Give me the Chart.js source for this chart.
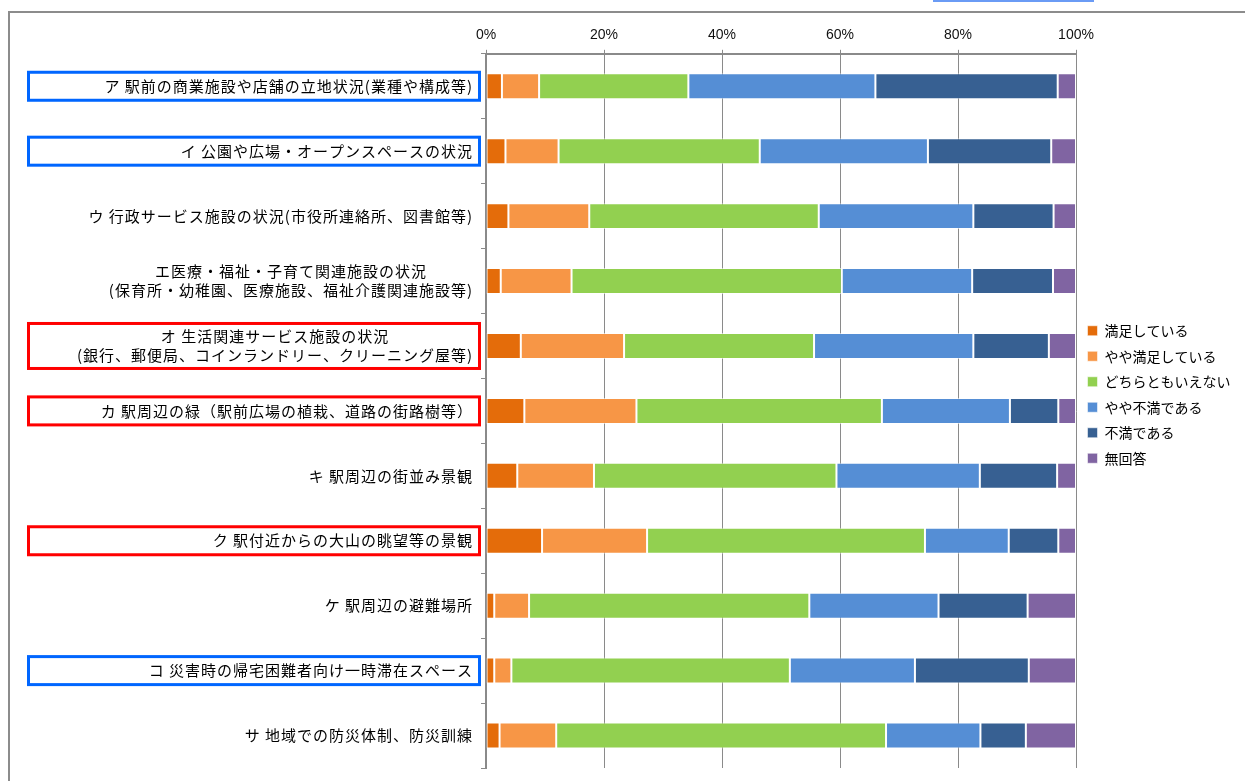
<!DOCTYPE html>
<html lang="ja">
<head>
<meta charset="utf-8">
<title>駅周辺の満足度</title>
<script src="https://cdn.jsdelivr.net/npm/chart.js@4.4.1/dist/chart.umd.min.js"></script>
<style>
  html, body { margin: 0; padding: 0; background: #fff; }
  body { width: 1245px; height: 781px; position: relative; overflow: hidden; }
  #frame { position: absolute; left: 8px; top: 11px; width: 1300px; height: 900px; border: 2px solid #8c8c8c; box-sizing: border-box; }
  #topEdge { position: absolute; left: 933px; top: 0; width: 161px; height: 2px; background: #6a9bf5; }
  #wrap { position: absolute; left: 0; top: 0; width: 1245px; height: 781px; }
</style>
</head>
<body>
<div id="topEdge"></div>
<div id="frame"></div>
<div id="wrap"><canvas id="chart"></canvas></div>
<script>
// Categories (multi-line labels as arrays)
const categories = [
  ['ア 駅前の商業施設や店舗の立地状況(業種や構成等)'],
  ['イ 公園や広場・オープンスペースの状況'],
  ['ウ 行政サービス施設の状況(市役所連絡所、図書館等)'],
  ['エ医療・福祉・子育て関連施設の状況', '(保育所・幼稚園、医療施設、福祉介護関連施設等)'],
  ['オ 生活関連サービス施設の状況', '(銀行、郵便局、コインランドリー、クリーニング屋等)'],
  ['カ 駅周辺の緑（駅前広場の植栽、道路の街路樹等）'],
  ['キ 駅周辺の街並み景観'],
  ['ク 駅付近からの大山の眺望等の景観'],
  ['ケ 駅周辺の避難場所'],
  ['コ 災害時の帰宅困難者向け一時滞在スペース'],
  ['サ 地域での防災体制、防災訓練']
];

// Highlight frames around some labels
const boxColors = ['#0066FF', '#0066FF', null, null, '#FF0000', '#FF0000', null, '#FF0000', null, '#0066FF', null];

// Series values (%)
const manzoku     = [2.7, 3.3, 3.8, 2.5, 5.9, 6.5, 5.3, 9.5, 1.4, 1.4, 2.3];
const yayaManzoku = [6.3, 9.0, 13.7, 12.0, 17.5, 19.0, 13.0, 17.8, 5.9, 2.9, 9.6];
const dochiramo   = [25.3, 34.1, 38.9, 45.8, 32.2, 41.6, 41.1, 47.1, 47.5, 47.2, 55.9];
const yayaFuman   = [31.7, 28.5, 26.2, 22.1, 27.0, 21.7, 24.3, 14.2, 21.9, 21.2, 16.0];
const fuman       = [30.9, 20.9, 13.6, 13.7, 12.8, 8.2, 13.1, 8.4, 15.1, 19.3, 7.7];
const mukaitou    = [3.1, 4.2, 3.8, 3.9, 4.6, 3.0, 3.2, 3.0, 8.2, 8.0, 8.5];

const seriesNames = ['満足している', 'やや満足している', 'どちらともいえない', 'やや不満である', '不満である', '無回答'];
const seriesData = [manzoku, yayaManzoku, dochiramo, yayaFuman, fuman, mukaitou];
const seriesColors = ['#E46C0A', '#F79646', '#92D050', '#558ED5', '#376092', '#8064A2'];

// Tick values for the top axis
const xTicks = [0, 20, 40, 60, 80, 100];

const LABEL_RIGHT = 473;
const LINE_H = 19;

// Draw the category labels and the coloured frames
const labelPlugin = {
  id: 'itemLabels',
  afterDraw(chart) {
    const ctx = chart.ctx;
    const y = chart.scales.y;
    ctx.save();
    ctx.font = '15px "Noto Sans CJK JP"';
    ctx.letterSpacing = '1px';
    ctx.fillStyle = '#000';
    ctx.textBaseline = 'middle';
    ctx.textAlign = 'center';
    categories.forEach((lines, i) => {
      const cy = y.getPixelForValue(i);
      const blockW = Math.max(...lines.map(t => ctx.measureText(t).width));
      lines.forEach((t, j) => {
        const ty = cy + (j - (lines.length - 1) / 2) * LINE_H;
        ctx.fillText(t, LABEL_RIGHT - blockW / 2, ty);
      });
      if (boxColors[i]) {
        const h = lines.length > 1 ? 45 : 28;
        ctx.strokeStyle = boxColors[i];
        ctx.lineWidth = 3;
        ctx.strokeRect(28.5, cy - h / 2, 451, h);
      }
    });
    ctx.restore();
  }
};

document.addEventListener('DOMContentLoaded', function() {
  const ctx = document.getElementById('chart');
  new Chart(ctx, {
    type: 'bar',
    data: {
      labels: categories.map(c => c.join(' ')),
      datasets: seriesNames.map((name, k) => ({
        label: name,
        data: seriesData[k],
        backgroundColor: seriesColors[k],
        borderColor: 'rgba(255,255,255,0.55)',
        borderWidth: 1,
        borderSkipped: false,
        barPercentage: 0.4,
        categoryPercentage: 1.0
      }))
    },
    options: {
      indexAxis: 'y',
      responsive: true,
      maintainAspectRatio: false,
      animation: false,
      layout: {
        padding: { left: 481, top: 21, bottom: 13, right: 4.5 }
      },
      scales: {
        x: {
          position: 'top',
          stacked: true,
          min: 0,
          max: 100,
          afterBuildTicks: axis => { axis.ticks = xTicks.map(v => ({ value: v })); },
          ticks: {
            callback: v => v + '%',
            color: '#111',
            font: { family: '"Liberation Sans", Arial', size: 14 },
            padding: 6,
            maxRotation: 0
          },
          grid: { color: '#8a8a8a', lineWidth: 1, tickLength: 4 },
          border: { color: '#8a8a8a', width: 2 }
        },
        y: {
          stacked: true,
          ticks: { display: false },
          grid: { drawOnChartArea: false, color: '#8a8a8a', tickLength: 5 },
          border: { color: '#8a8a8a', width: 2 }
        }
      },
      plugins: {
        legend: {
          position: 'right',
          labels: {
            boxWidth: 10,
            boxHeight: 10,
            padding: 11.5,
            color: '#000',
            font: { family: '"Noto Sans CJK JP"', size: 14 }
          }
        },
        tooltip: { enabled: false }
      }
    },
    plugins: [labelPlugin]
  });
});
</script>
</body>
</html>
